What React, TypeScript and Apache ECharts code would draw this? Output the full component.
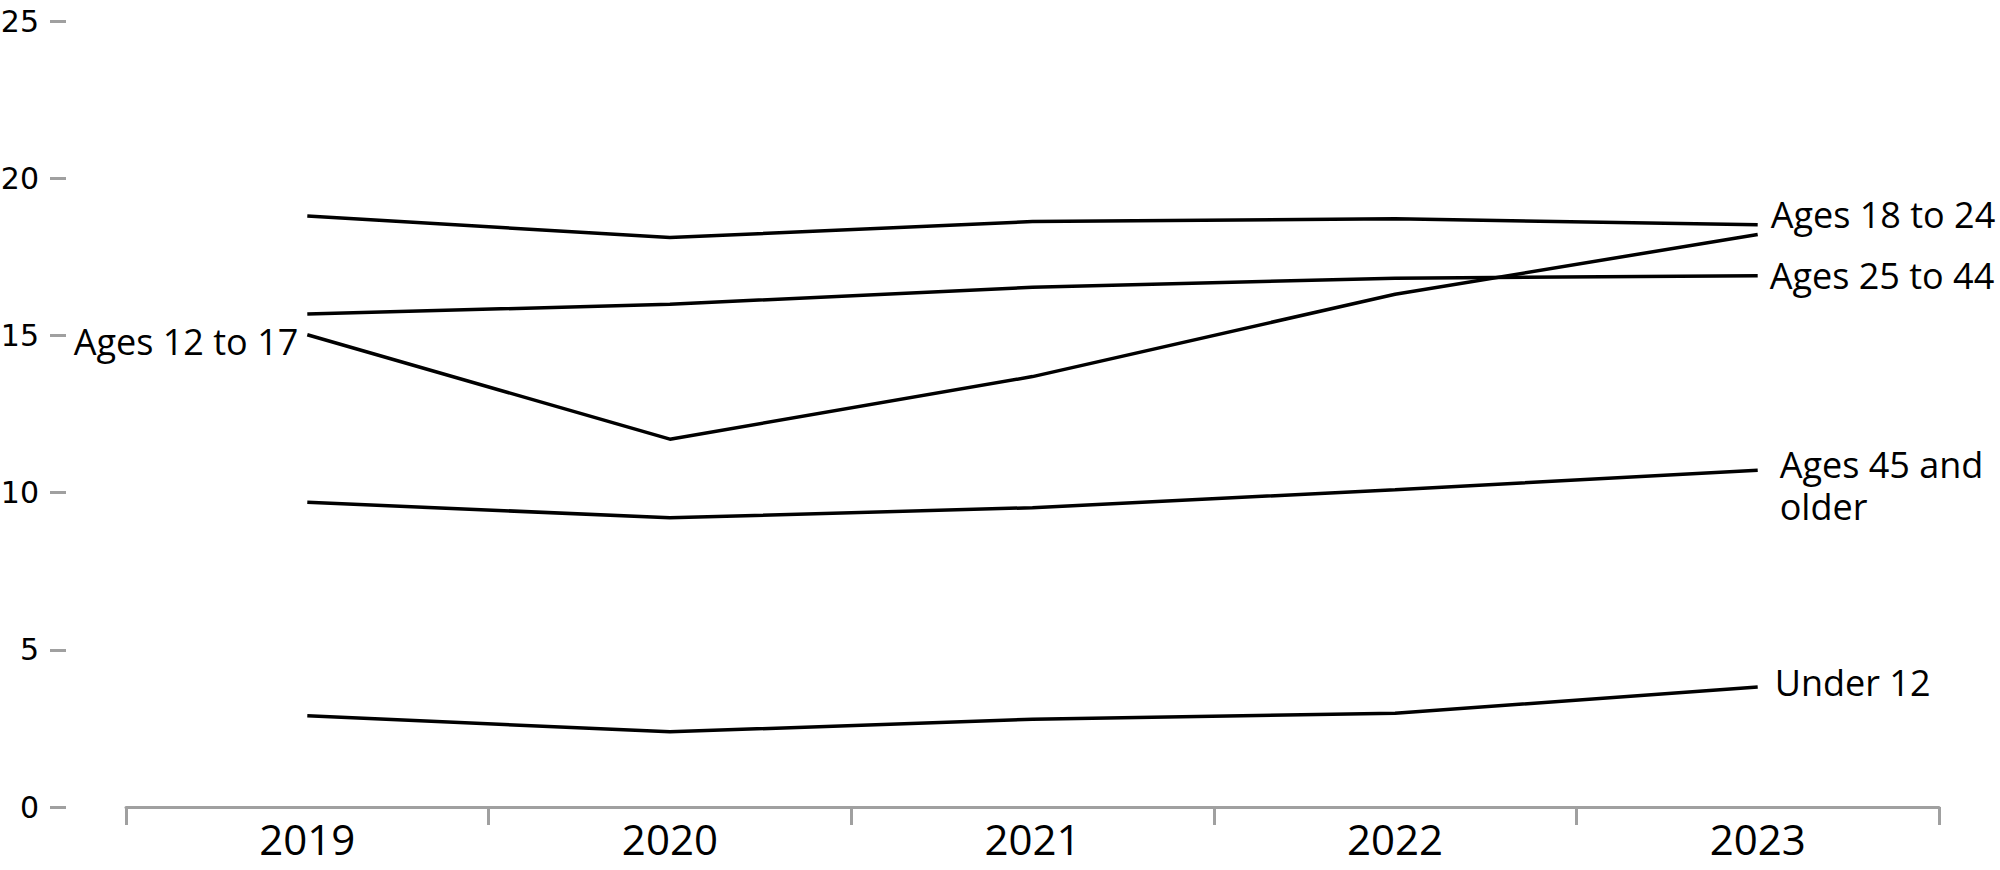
import React, { useEffect, useRef } from "react";
import * as echarts from "echarts";

const years = ["2019", "2020", "2021", "2022", "2023"];
const yTicks = [0, 5, 10, 15, 20, 25];

const ages18to24 = [18.8, 18.11, 18.62, 18.71, 18.52];
const ages25to44 = [15.68, 15.99, 16.53, 16.82, 16.9];
const ages12to17 = [15.02, 11.7, 13.69, 16.31, 18.21];
const ages45plus = [9.69, 9.2, 9.52, 10.09, 10.71];
const under12 = [2.9, 2.39, 2.79, 2.98, 3.82];

const labelNames = ["Ages 18 to 24", "Ages 25 to 44", "Ages 12 to 17", "Ages 45 and\nolder", "Under 12"];

const FONT = "'Open Sans', sans-serif";

function makeSeries(
  name: string,
  values: number[],
  labelIndex: number,
  position: string,
  distance: number,
  offset: number[]
) {
  return {
    type: "line",
    name,
    silent: true,
    symbol: "circle",
    symbolSize: 0,
    showSymbol: true,
    lineStyle: { color: "#000", width: 3.5 },
    itemStyle: { color: "#000" },
    emphasis: { disabled: true },
    data: values.map((v, i) =>
      i === labelIndex
        ? {
            value: v,
            label: {
              show: true,
              formatter: name,
              position,
              distance,
              offset,
              color: "#000",
              fontFamily: FONT,
              fontSize: 36,
              lineHeight: 42,
              align: position === "left" ? "right" : "left",
            },
          }
        : v
    ),
  };
}

export default function App() {
  const ref = useRef<HTMLDivElement>(null);
  useEffect(() => {
    if (!ref.current) return;
    const chart = echarts.init(ref.current, null, { renderer: "svg" });
    chart.setOption({
      animation: false,
      backgroundColor: "#fff",
      grid: {
        left: 126,
        right: 61,
        top: 21,
        bottom: 63,
        containLabel: false,
        outerBoundsMode: "none",
      },
      xAxis: {
        type: "category",
        data: years,
        boundaryGap: true,
        axisLine: { show: true, lineStyle: { color: "#a0a0a0", width: 3 } },
        axisTick: { show: true, length: 18, lineStyle: { color: "#a0a0a0", width: 3 } },
        axisLabel: { color: "#000", fontFamily: FONT, fontSize: 42, margin: 10 },
        splitLine: { show: false },
      },
      yAxis: {
        type: "value",
        min: yTicks[0],
        max: yTicks[yTicks.length - 1],
        interval: 5,
        offset: 60,
        axisLine: { show: false },
        axisTick: { show: true, length: 16, lineStyle: { color: "#a0a0a0", width: 3 } },
        axisLabel: { color: "#000", fontFamily: "'DejaVu Sans', sans-serif", fontSize: 30, margin: 27 },
        splitLine: { show: false },
      },
      series: [
        makeSeries(labelNames[0], ages18to24, 4, "right", 13, [0, -10]),
        makeSeries(labelNames[1], ages25to44, 4, "right", 12, [0, 0]),
        makeSeries(labelNames[2], ages12to17, 0, "left", 9, [0, 7]),
        makeSeries(labelNames[3], ages45plus, 4, "right", 22, [0, 15]),
        makeSeries(labelNames[4], under12, 4, "right", 17, [0, -4]),
      ],
    });
    return () => chart.dispose();
  }, []);
  return (
    <div
      ref={ref}
      style={{ position: "fixed", left: 0, top: 0, width: 2000, height: 870, background: "#fff" }}
    />
  );
}
